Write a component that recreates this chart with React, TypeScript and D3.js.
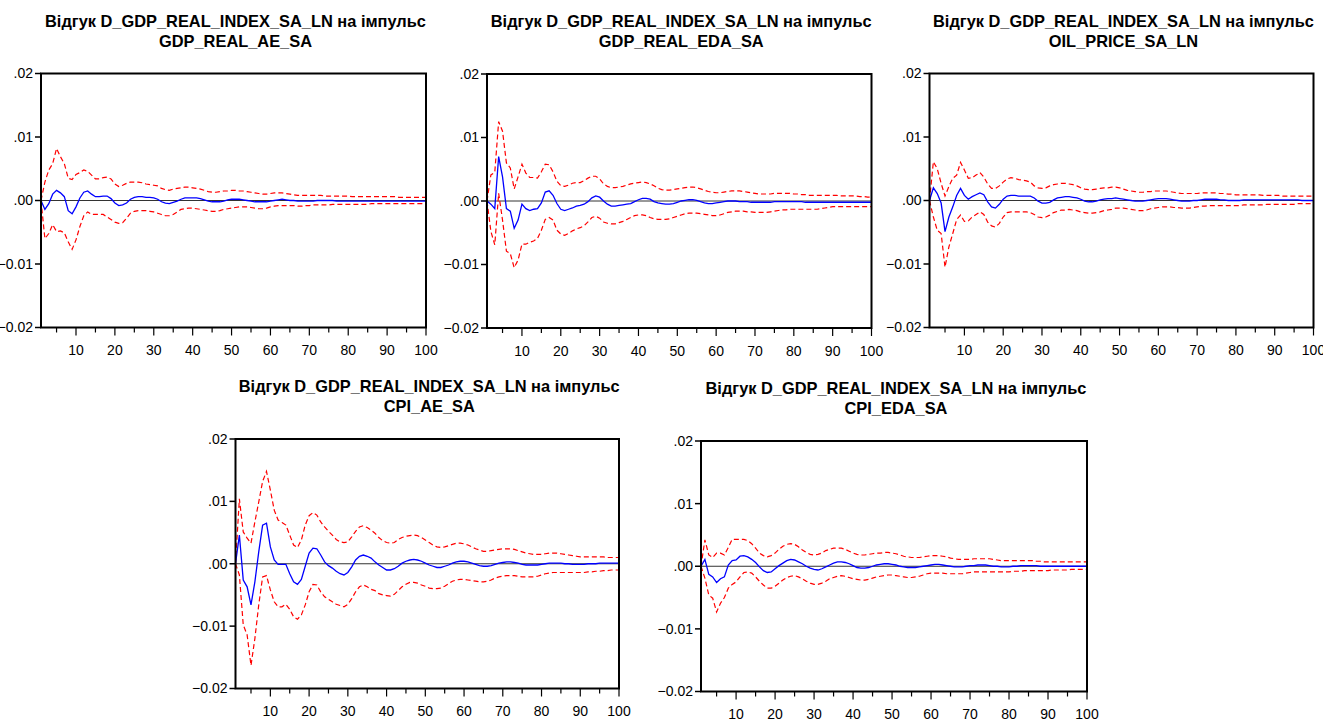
import React from 'react'
import * as d3 from 'd3'

// impulse response periods 1..100
const periods = d3.range(1, 101)

const titleLine1 = 'Відгук D_GDP_REAL_INDEX_SA_LN на імпульс'
const impulses = ['GDP_REAL_AE_SA', 'GDP_REAL_EDA_SA', 'OIL_PRICE_SA_LN', 'CPI_AE_SA', 'CPI_EDA_SA']

const yTicks = [-0.02, -0.01, 0, 0.01, 0.02]
const xMajorTicks = [10, 20, 30, 40, 50, 60, 70, 80, 90, 100]
const xMinorTicks = [5, 15, 25, 35, 45, 55, 65, 75, 85, 95]

// response of D_GDP to GDP_REAL_AE_SA
const gdpAeResp = [
  0, -.0014, -.0005, .001, .0016, .0012, .0006, -.0016, -.0021, -.001,
  .0004, .0013, .0015, .001, .0006, .0006, .0007, .0007, .0003, -.0004,
  -.0008, -.0007, -.0004, .0002, .0005, .0006, .0006, .0005, .0005, .0004,
  .0002, -.0002, -.0004, -.0005, -.0003, -.0001, .0002, .0004, .0004, .0004,
  .0004, .0003, .0001, -.0001, -.0002, -.0002, -.0002, -.0001, .0001, .0002,
  .0002, .0002, .0001, 0, -.0001, -.0002, -.0002, -.0002, -.0002, -.0001,
  0, .0001, .0002, .0001, 0, 0, -.0001, -.0001, -.0001, -.0001,
  -.0001, 0, 0, 0, 0, 0, -.0001, -.0001, -.0001, -.0001,
  -.0001, -.0001, -.0001, -.0001, -.0001, -.0001, -.0001, -.0001, -.0001, -.0001,
  -.0001, -.0001, -.0001, -.0001, -.0001, -.0001, -.0001, -.0001, -.0001, -.0001,
]
const gdpAeUpper = [
  0, .0029, .0048, .0058, .0082, .0069, .0058, .0035, .0033, .0041,
  .0044, .0048, .0046, .004, .0034, .0034, .0036, .0037, .0034, .0026,
  .0022, .0024, .0027, .0029, .0029, .0029, .0028, .0026, .0025, .0024,
  .0023, .0019, .0017, .0016, .0018, .0019, .002, .0021, .0021, .002,
  .0019, .0018, .0016, .0014, .0013, .0013, .0014, .0015, .0015, .0016,
  .0016, .0015, .0015, .0014, .0013, .0012, .0011, .001, .001, .0011,
  .0012, .0012, .0012, .0011, .001, .0009, .0008, .0008, .0008, .0008,
  .0008, .0008, .0008, .0007, .0007, .0007, .0007, .0007, .0007, .0007,
  .0006, .0006, .0006, .0006, .0006, .0006, .0006, .0006, .0006, .0006,
  .0006, .0006, .0005, .0005, .0005, .0005, .0005, .0005, .0005, .0005,
]
const gdpAeLower = [
  0, -.006, -.0052, -.0038, -.0049, -.0048, -.0051, -.0065, -.0077, -.0062,
  -.0041, -.0024, -.0018, -.0022, -.0022, -.0022, -.0022, -.0026, -.003, -.0034,
  -.0036, -.0035, -.0028, -.002, -.0017, -.0016, -.0016, -.0016, -.0017, -.0018,
  -.002, -.0022, -.0024, -.0024, -.0022, -.0018, -.0014, -.0013, -.0012, -.0012,
  -.0013, -.0014, -.0015, -.0016, -.0017, -.0017, -.0016, -.0014, -.0013, -.0012,
  -.0011, -.001, -.001, -.001, -.0011, -.0012, -.0013, -.0013, -.0012, -.001,
  -.0009, -.0008, -.0008, -.0008, -.0008, -.0008, -.0009, -.0009, -.0008, -.0008,
  -.0007, -.0007, -.0007, -.0007, -.0007, -.0006, -.0006, -.0006, -.0006, -.0006,
  -.0006, -.0006, -.0006, -.0006, -.0006, -.0005, -.0005, -.0005, -.0005, -.0005,
  -.0005, -.0005, -.0005, -.0005, -.0005, -.0005, -.0005, -.0005, -.0005, -.0005,
]

// response to GDP_REAL_EDA_SA
const gdpEdaResp = [
  0, -.0005, -.0012, .007, .0038, -.0012, -.0016, -.0043, -.003, -.0005,
  -.0012, -.0015, -.0013, -.0012, -.0003, .0014, .0016, .0009, -.0004, -.0013,
  -.0015, -.0013, -.0011, -.0008, -.0007, -.0005, -.0001, .0005, .0008, .0006,
  0, -.0005, -.0008, -.0008, -.0007, -.0006, -.0005, -.0004, -.0001, .0002,
  .0004, .0004, .0003, -.0001, -.0003, -.0004, -.0005, -.0005, -.0004, -.0002,
  0, .0001, .0002, .0002, .0001, -.0001, -.0003, -.0004, -.0004, -.0003,
  -.0002, -.0001, 0, 0, 0, -.0001, -.0001, -.0001, -.0002, -.0002,
  -.0002, -.0002, -.0002, -.0002, -.0001, -.0001, -.0001, -.0001, -.0001, -.0001,
  -.0001, -.0001, -.0002, -.0002, -.0002, -.0002, -.0002, -.0002, -.0002, -.0002,
  -.0002, -.0002, -.0002, -.0002, -.0002, -.0002, -.0002, -.0002, -.0002, -.0002,
]
const gdpEdaUpper = [
  0, .0041, .0045, .0125, .011, .006, .0052, .0019, .0038, .0058,
  .0044, .0037, .0037, .0036, .0046, .0058, .0057, .0046, .0031, .0024,
  .0023, .0025, .0028, .0029, .0029, .0032, .0036, .0039, .0039, .0035,
  .0027, .0023, .0021, .0021, .0022, .0023, .0025, .0027, .0028, .0029,
  .003, .0029, .0027, .0024, .002, .0018, .0017, .0017, .0018, .0019,
  .002, .0021, .0022, .0022, .0021, .0019, .0017, .0015, .0014, .0013,
  .0013, .0014, .0015, .0016, .0016, .0016, .0015, .0014, .0013, .0012,
  .0011, .0011, .0011, .0011, .0012, .0012, .0012, .0012, .0012, .0011,
  .0011, .001, .001, .0009, .0009, .0009, .0009, .0009, .0009, .0009,
  .0009, .0008, .0008, .0008, .0008, .0008, .0007, .0007, .0006, .0006,
]
const gdpEdaLower = [
  0, -.0048, -.0069, .0012, -.003, -.0079, -.0083, -.0105, -.0093, -.0068,
  -.0068, -.0065, -.0063, -.0059, -.0046, -.0029, -.0026, -.003, -.0046, -.0052,
  -.0054, -.0051, -.0047, -.0044, -.0042, -.0039, -.0033, -.0026, -.0024, -.0027,
  -.0033, -.0035, -.0036, -.0036, -.0034, -.0032, -.0029, -.0026, -.0023, -.0022,
  -.0022, -.0023, -.0026, -.0028, -.0029, -.0029, -.0029, -.0028, -.0026, -.0024,
  -.0022, -.002, -.0019, -.0019, -.0019, -.002, -.0021, -.0022, -.0023, -.0023,
  -.0022, -.002, -.0018, -.0017, -.0016, -.0016, -.0016, -.0017, -.0017, -.0018,
  -.0018, -.0018, -.0018, -.0017, -.0016, -.0015, -.0014, -.0014, -.0013, -.0013,
  -.0013, -.0013, -.0013, -.0013, -.0013, -.0013, -.0012, -.0011, -.001, -.0009,
  -.0009, -.0009, -.0009, -.0009, -.0009, -.0009, -.0009, -.0009, -.0009, -.0009,
]

// response to OIL_PRICE_SA_LN
const oilResp = [
  0, .002, .0011, -.0004, -.0049, -.0026, -.001, .0008, .0019, .0008,
  .0002, .0006, .0009, .0012, .0009, -.0002, -.001, -.0012, -.0006, .0002,
  .0007, .0008, .0008, .0007, .0007, .0007, .0007, .0004, -.0001, -.0004,
  -.0004, -.0003, .0001, .0004, .0005, .0006, .0006, .0005, .0004, .0002,
  -.0001, -.0002, -.0002, -.0001, .0001, .0002, .0003, .0003, .0004, .0003,
  .0002, .0001, 0, -.0001, -.0001, -.0001, 0, .0001, .0002, .0003,
  .0003, .0003, .0002, .0001, 0, -.0001, -.0001, -.0001, 0, 0,
  .0001, .0002, .0002, .0002, .0002, .0001, .0001, 0, 0, 0,
  0, .0001, .0001, .0001, .0001, .0001, .0001, .0001, .0001, .0001,
  .0001, .0001, .0001, .0001, .0001, .0001, 0, 0, 0, 0,
]
const oilUpper = [
  0, .0061, .005, .0027, .0007, .0022, .0035, .004, .006, .0048,
  .0035, .0036, .004, .0044, .0037, .0026, .0019, .0019, .0023, .0029,
  .0034, .0036, .0035, .0033, .0032, .0031, .0029, .0023, .002, .0019,
  .002, .0023, .0025, .0026, .0027, .0027, .0026, .0025, .0023, .002,
  .0018, .0017, .0017, .0018, .0019, .002, .002, .0021, .0021, .002,
  .0018, .0016, .0015, .0014, .0013, .0013, .0014, .0014, .0015, .0015,
  .0015, .0015, .0014, .0013, .0012, .0011, .0011, .0011, .0011, .0011,
  .0012, .0012, .0012, .0012, .0012, .0011, .0011, .001, .001, .0009,
  .0009, .0009, .0009, .0009, .0009, .0009, .0008, .0008, .0008, .0008,
  .0008, .0007, .0007, .0007, .0007, .0007, .0007, .0007, .0007, .0007,
]
const oilLower = [
  0, -.0026, -.0047, -.0052, -.0105, -.0073, -.0052, -.003, -.0023, -.0033,
  -.0032, -.0026, -.0022, -.0018, -.0022, -.0034, -.004, -.0042, -.0036, -.0026,
  -.0019, -.0018, -.0018, -.0018, -.0018, -.0018, -.0019, -.0022, -.0026, -.0027,
  -.0026, -.0023, -.0019, -.0017, -.0015, -.0015, -.0014, -.0015, -.0016, -.0018,
  -.0019, -.002, -.002, -.0019, -.0018, -.0016, -.0015, -.0014, -.0012, -.0012,
  -.0012, -.0013, -.0014, -.0015, -.0016, -.0016, -.0015, -.0013, -.0012, -.0011,
  -.001, -.001, -.001, -.0011, -.0011, -.0012, -.0012, -.0012, -.0011, -.001,
  -.0009, -.0009, -.0008, -.0008, -.0008, -.0008, -.0008, -.0008, -.0008, -.0008,
  -.0008, -.0007, -.0007, -.0007, -.0007, -.0007, -.0007, -.0006, -.0006, -.0006,
  -.0006, -.0006, -.0006, -.0006, -.0006, -.0005, -.0005, -.0005, -.0005, -.0005,
]

// response to CPI_AE_SA
const cpiAeResp = [
  0, .0046, -.0026, -.0037, -.0066, -.0029, .0019, .0062, .0065, .0027,
  .0006, -.0001, -.0001, -.0001, -.0016, -.0029, -.0033, -.0025, -.0004, .0017,
  .0025, .0024, .0014, .0003, -.0003, -.0007, -.0012, -.0016, -.0018, -.0014,
  -.0005, .0006, .0012, .0014, .0012, .0009, .0003, -.0002, -.0006, -.001,
  -.001, -.0008, -.0004, .0001, .0004, .0006, .0007, .0006, .0004, .0001,
  -.0002, -.0004, -.0006, -.0006, -.0004, -.0002, .0001, .0003, .0004, .0004,
  .0003, .0001, -.0001, -.0003, -.0004, -.0004, -.0003, -.0001, .0001, .0002,
  .0003, .0003, .0002, .0001, -.0001, -.0002, -.0002, -.0002, -.0002, -.0001,
  0, .0001, .0001, .0001, .0001, 0, 0, -.0001, -.0001, -.0001,
  -.0001, 0, 0, 0, .0001, .0001, .0001, .0001, .0001, .0001,
]
const cpiAeUpper = [
  0, .0104, .0051, .0041, .0033, .0067, .0099, .0132, .0148, .0118,
  .0086, .007, .0066, .0062, .0046, .003, .0026, .0038, .0062, .0077,
  .0082, .0078, .0067, .0059, .0052, .0046, .0039, .0035, .0034, .0035,
  .0043, .0052, .0059, .0061, .0058, .0054, .0049, .0042, .0037, .0034,
  .0033, .0034, .0039, .0042, .0044, .0045, .0046, .0045, .0042, .0038,
  .0034, .003, .0027, .0026, .0027, .0029, .0031, .0033, .0033, .0032,
  .003, .0027, .0024, .0022, .002, .002, .0021, .0022, .0023, .0024,
  .0024, .0024, .0023, .0021, .0019, .0017, .0016, .0015, .0015, .0015,
  .0016, .0017, .0017, .0017, .0016, .0015, .0014, .0013, .0012, .0011,
  .0011, .0011, .0011, .0011, .0011, .0011, .001, .001, .001, .001,
]
const cpiAeLower = [
  0, -.0018, -.0098, -.0114, -.0163, -.012, -.0066, -.0021, -.0019, -.0042,
  -.0061, -.0069, -.0069, -.0065, -.0073, -.0085, -.0089, -.0082, -.0066, -.0045,
  -.0033, -.0034, -.0045, -.0053, -.0057, -.0061, -.0065, -.0067, -.0069, -.0065,
  -.0056, -.0045, -.0037, -.0034, -.0037, -.0041, -.0043, -.0048, -.005, -.0051,
  -.0052, -.0049, -.0043, -.0037, -.0033, -.003, -.003, -.0031, -.0034, -.0036,
  -.0039, -.004, -.004, -.0039, -.0036, -.0032, -.0028, -.0026, -.0025, -.0025,
  -.0026, -.0027, -.0028, -.0029, -.0029, -.0028, -.0026, -.0023, -.0021, -.002,
  -.0019, -.0019, -.0019, -.002, -.0021, -.0021, -.0021, -.0021, -.002, -.0018,
  -.0016, -.0015, -.0014, -.0014, -.0014, -.0014, -.0014, -.0014, -.0014, -.0014,
  -.0014, -.0013, -.0013, -.0012, -.0012, -.0011, -.0011, -.001, -.001, -.001,
]

// response to CPI_EDA_SA
const cpiEdaResp = [
  0, .0011, -.0013, -.0017, -.0026, -.002, -.0017, .0002, .0009, .001,
  .0016, .0017, .0015, .0011, .0006, -.0001, -.0007, -.001, -.0009, -.0004,
  .0001, .0005, .0009, .0011, .001, .0007, .0004, 0, -.0003, -.0005,
  -.0006, -.0004, -.0001, .0002, .0005, .0007, .0007, .0006, .0004, .0001,
  -.0002, -.0003, -.0003, -.0002, 0, .0002, .0003, .0004, .0004, .0003,
  .0002, 0, -.0001, -.0002, -.0002, -.0002, -.0001, 0, .0001, .0002,
  .0003, .0003, .0002, .0001, 0, -.0001, -.0001, -.0001, 0, .0001,
  .0001, .0002, .0002, .0002, .0001, 0, 0, -.0001, -.0001, -.0001,
  0, 0, .0001, .0001, .0001, .0001, .0001, 0, 0, 0,
  0, 0, 0, 0, 0, 0, 0, 0, 0, 0,
]
const cpiEdaUpper = [
  0, .0042, .0018, .0014, .0021, .0021, .0018, .003, .0043, .0043,
  .0043, .0043, .0041, .0036, .0029, .0021, .0017, .0015, .0017, .0021,
  .0027, .0032, .0035, .0036, .0035, .0031, .0026, .0022, .0019, .0018,
  .0019, .0021, .0025, .0027, .0029, .0029, .0029, .0027, .0024, .0021,
  .0019, .0018, .0018, .0019, .002, .0021, .0021, .0022, .0022, .0021,
  .002, .0018, .0016, .0015, .0014, .0014, .0014, .0015, .0016, .0017,
  .0017, .0017, .0016, .0015, .0013, .0012, .0011, .0011, .0011, .0011,
  .0012, .0012, .0012, .0012, .0012, .0011, .001, .0009, .0009, .0009,
  .0009, .0009, .0009, .0009, .0009, .0009, .0008, .0008, .0007, .0007,
  .0007, .0007, .0007, .0007, .0007, .0007, .0007, .0007, .0007, .0007,
]
const cpiEdaLower = [
  0, -.0019, -.0046, -.0051, -.0073, -.0059, -.005, -.0035, -.0029, -.0025,
  -.0017, -.001, -.0009, -.0011, -.0017, -.0024, -.003, -.0035, -.0035, -.0032,
  -.0027, -.0022, -.0018, -.0016, -.0015, -.0017, -.002, -.0024, -.0027, -.0029,
  -.0029, -.0027, -.0024, -.002, -.0018, -.0016, -.0015, -.0016, -.0018, -.002,
  -.0021, -.0022, -.0022, -.0021, -.0019, -.0017, -.0016, -.0015, -.0014, -.0014,
  -.0015, -.0016, -.0017, -.0018, -.0018, -.0017, -.0016, -.0014, -.0012, -.0011,
  -.0011, -.0011, -.0011, -.0012, -.0012, -.0012, -.0012, -.0012, -.0011, -.001,
  -.0009, -.0009, -.0009, -.0009, -.0009, -.0009, -.0009, -.0009, -.0009, -.0009,
  -.0008, -.0008, -.0008, -.0007, -.0007, -.0007, -.0007, -.0007, -.0007, -.0007,
  -.0006, -.0006, -.0006, -.0006, -.0006, -.0005, -.0005, -.0005, -.0005, -.0005,
]

const series = [
  { resp: gdpAeResp, upper: gdpAeUpper, lower: gdpAeLower },
  { resp: gdpEdaResp, upper: gdpEdaUpper, lower: gdpEdaLower },
  { resp: oilResp, upper: oilUpper, lower: oilLower },
  { resp: cpiAeResp, upper: cpiAeUpper, lower: cpiAeLower },
  { resp: cpiEdaResp, upper: cpiEdaUpper, lower: cpiEdaLower },
]

// plot frames (left, right, top, bottom) in page pixels
const frames = [
  { x0: 41, x1: 426, y0: 73.5, y1: 327.5 },
  { x0: 487, x1: 871.5, y0: 74, y1: 328 },
  { x0: 929.5, x1: 1313.5, y0: 73.5, y1: 327.5 },
  { x0: 235.5, x1: 619, y0: 439, y1: 688.5 },
  { x0: 701, x1: 1087, y0: 441, y1: 691.5 },
]

const FONT = 'Arial, "Liberation Sans", sans-serif'

const fmtY = (v: number) => {
  const s = d3.format('.2f')(v)
  return s.replace(/^(-?)0\./, '$1.')
}

const Panel = ({ frame, data, impulse }: any) => {
  const { x0, x1, y0, y1 } = frame
  const xScale = d3.scaleLinear().domain([1, 100]).range([x0, x1])
  const yScale = d3.scaleLinear().domain([-0.02, 0.02]).range([y1, y0])

  const line = (vals: number[]) =>
    d3.line<number>()
      .x((_, i) => xScale(periods[i]))
      .y(d => yScale(d))(vals) as string

  const cx = (x0 + x1) / 2 + 2

  return (
    <g>
      <text x={cx} y={y0 - 47} textAnchor="middle" fontFamily={FONT} fontWeight="bold" fontSize={16.4}>{titleLine1}</text>
      <text x={cx} y={y0 - 27} textAnchor="middle" fontFamily={FONT} fontWeight="bold" fontSize={16.4}>{impulse}</text>

      {/* zero line */}
      <line x1={x0} x2={x1} y1={yScale(0)} y2={yScale(0)} stroke="#333" strokeWidth={1} />

      <path d={line(data.upper)} fill="none" stroke="#ff0000" strokeWidth={1.2} strokeDasharray="5,3" />
      <path d={line(data.lower)} fill="none" stroke="#ff0000" strokeWidth={1.2} strokeDasharray="5,3" />
      <path d={line(data.resp)} fill="none" stroke="#0000ff" strokeWidth={1.3} />

      {/* frame */}
      <rect x={x0} y={y0} width={x1 - x0} height={y1 - y0} fill="none" stroke="#000" strokeWidth={2} />

      {yTicks.map((t, i) => (
        <g key={i}>
          <line x1={x0 - 6} x2={x0} y1={yScale(t)} y2={yScale(t)} stroke="#000" strokeWidth={1.5} />
          <text x={x0 - 8} y={yScale(t)} dy=".35em" textAnchor="end" fontFamily={FONT} fontSize={14}>{fmtY(t)}</text>
        </g>
      ))}
      {xMajorTicks.map((t, i) => (
        <g key={i}>
          <line x1={xScale(t)} x2={xScale(t)} y1={y1} y2={y1 + 8} stroke="#000" strokeWidth={1.2} />
          <text x={xScale(t)} y={y1 + 27.5} textAnchor="middle" fontFamily={FONT} fontSize={14}>{t}</text>
        </g>
      ))}
      {xMinorTicks.map((t, i) => (
        <line key={i} x1={xScale(t)} x2={xScale(t)} y1={y1} y2={y1 + 5} stroke="#000" strokeWidth={1.2} />
      ))}
    </g>
  )
}

export default function App() {
  return (
    <svg width={1323} height={719} style={{ position: 'absolute', left: 0, top: 0, background: '#fff' }}>
      <rect width={1323} height={719} fill="#fff" />
      {frames.map((f, i) => (
        <Panel key={i} frame={f} data={series[i]} impulse={impulses[i]} />
      ))}
    </svg>
  )
}
